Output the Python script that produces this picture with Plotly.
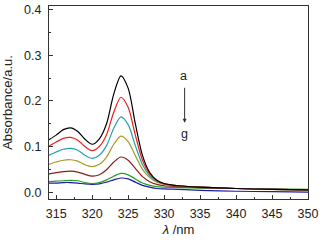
import plotly.graph_objects as go

wavelength = [314, 315, 316, 317, 318, 319, 320, 321, 322, 323, 324, 325, 326, 327, 328, 329, 330, 332, 335, 340, 345, 350]
curve_a = [0.115, 0.125, 0.137, 0.141, 0.133, 0.116, 0.105, 0.117, 0.150, 0.215, 0.255, 0.228, 0.150, 0.080, 0.043, 0.026, 0.019, 0.014, 0.011, 0.008, 0.006, 0.005]
curve_b = [0.101, 0.110, 0.118, 0.120, 0.114, 0.100, 0.091, 0.100, 0.126, 0.175, 0.208, 0.186, 0.125, 0.070, 0.040, 0.025, 0.018, 0.014, 0.011, 0.008, 0.006, 0.005]
curve_c = [0.081, 0.088, 0.094, 0.096, 0.092, 0.081, 0.074, 0.081, 0.102, 0.140, 0.165, 0.148, 0.102, 0.060, 0.036, 0.024, 0.018, 0.014, 0.011, 0.008, 0.006, 0.005]
curve_d = [0.061, 0.066, 0.070, 0.071, 0.068, 0.060, 0.056, 0.061, 0.077, 0.105, 0.123, 0.111, 0.080, 0.050, 0.032, 0.022, 0.017, 0.014, 0.011, 0.008, 0.006, 0.005]
curve_e = [0.040, 0.043, 0.045, 0.046, 0.044, 0.039, 0.035, 0.038, 0.049, 0.066, 0.077, 0.070, 0.052, 0.034, 0.023, 0.017, 0.014, 0.012, 0.010, 0.008, 0.006, 0.005]
curve_f = [0.023, 0.024, 0.025, 0.026, 0.025, 0.021, 0.019, 0.021, 0.027, 0.035, 0.041, 0.038, 0.029, 0.020, 0.015, 0.012, 0.011, 0.010, 0.009, 0.008, 0.007, 0.006]
curve_g = [0.020, 0.020, 0.021, 0.021, 0.020, 0.018, 0.017, 0.018, 0.022, 0.027, 0.031, 0.029, 0.022, 0.015, 0.011, 0.008, 0.007, 0.006, 0.004, 0.002, 0.001, 0.000]

series = [curve_a, curve_b, curve_c, curve_d, curve_e, curve_f, curve_g]
names = ["a", "b", "c", "d", "e", "f", "g"]
colors = ["#000000", "#f0201c", "#24a0a8", "#a89a24", "#8c1c1c", "#24a024", "#1c1ca8"]

fig = go.Figure()
for ys, nm, col in zip(reversed(series), reversed(names), reversed(colors)):
    fig.add_trace(go.Scatter(x=wavelength, y=ys, name=nm, mode="lines",
                             line=dict(color=col, width=1.2, shape="spline", smoothing=0.8)))

font = "Liberation Sans, Arial, sans-serif"
fig.update_layout(
    width=336, height=244,
    margin=dict(l=49, r=28, t=6, b=45),
    paper_bgcolor="white", plot_bgcolor="white",
    showlegend=False,
    font=dict(family=font, size=12, color="#222"),
)
fig.update_xaxes(
    range=[314, 350], tickvals=[315, 320, 325, 330, 335, 340, 345, 350],
    ticks="inside", ticklen=4, tickcolor="#333", tickwidth=1,
    minor=dict(dtick=2.5, tick0=315, ticks="inside", ticklen=2, tickcolor="#333"),
    showline=True, linecolor="#333", linewidth=1, mirror=True,
    showgrid=False, zeroline=False, automargin=False,
    ticklabelstandoff=3,
    title=dict(text="<i>λ</i> /nm", standoff=4, font=dict(size=13)),
    tickfont=dict(size=12.5),
)
fig.update_yaxes(
    range=[-0.015, 0.408], tickvals=[0.0, 0.1, 0.2, 0.3, 0.4], ticktext=["0.0", "0.1", "0.2", "0.3", "0.4"],
    ticks="inside", ticklen=4, tickcolor="#333", tickwidth=1,
    minor=dict(dtick=0.05, tick0=0, ticks="inside", ticklen=2, tickcolor="#333"),
    showline=True, linecolor="#333", linewidth=1, mirror=True,
    showgrid=False, zeroline=False, automargin=False,
    ticklabelstandoff=4,
    title=dict(text="Absorbance/a.u.", standoff=9, font=dict(size=13)),
    tickfont=dict(size=12.5),
)
fig.add_annotation(x=332.75, y=0.255, text="a", showarrow=False, font=dict(size=12.5))
fig.add_annotation(x=332.85, y=0.127, text="g", showarrow=False, font=dict(size=12.5))
fig.add_annotation(x=332.85, y=0.152, ax=332.85, ay=0.232, xref="x", yref="y", axref="x", ayref="y",
                   text="", showarrow=True, arrowhead=2, arrowsize=0.8, arrowwidth=1, arrowcolor="#333")
fig.write_html("out.html", config={"displayModeBar": False},
               post_script="document.body.style.margin='0px';")
